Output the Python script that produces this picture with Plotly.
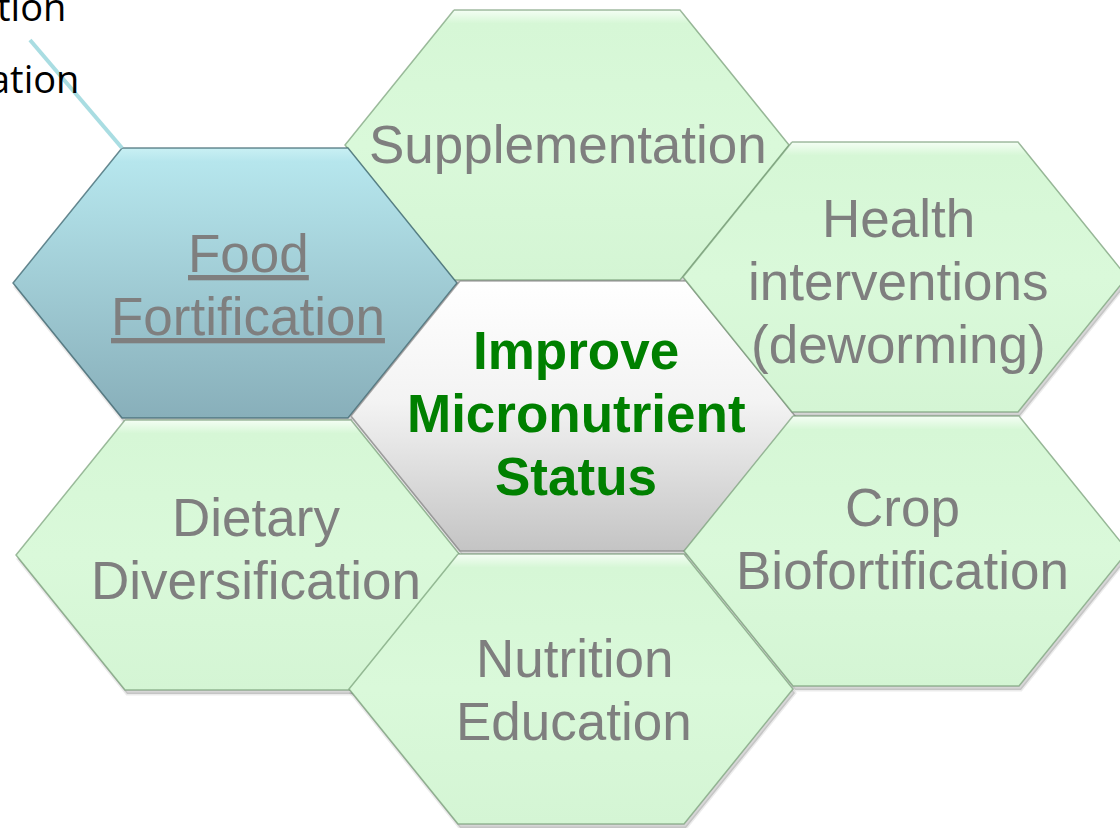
import plotly.graph_objects as go

# ---- content ----
hex_names = ["Supplementation", "Food Fortification", "Improve Micronutrient Status",
             "Health interventions (deworming)", "Dietary Diversification",
             "Crop Biofortification", "Nutrition Education"]
label_lines = [["Supplementation"],
               ["Food", "Fortification"],
               ["Improve", "Micronutrient", "Status"],
               ["Health", "interventions", "(deworming)"],
               ["Dietary", "Diversification"],
               ["Crop", "Biofortification"],
               ["Nutrition", "Education"]]
hex_kind = ["green", "blue", "center", "green", "green", "green", "green"]
partial_text = ["tion", "ation"]

# ---- layout (pixel-like coordinates, y downwards) ----
hex_cx = [567, 235, 573, 905, 238, 906, 571]
hex_cy = [145, 283, 416, 277, 555, 551, 689]
text_cx = [568, 248, 576, 898, 256, 902, 574]
text_cy = [144, 284.5, 413, 281, 548.5, 538.5, 689.5]
HW, HH, HE = 222, 135, 113
LINE_GAP = 63

W, H = 1120, 828

styles = {
    "green": dict(scale=[[0, "#f4fef4"], [0.05, "#d6f7d6"], [0.5, "#daf9da"], [1, "#d4f5d4"]],
                  line="rgba(110,150,110,0.65)"),
    "blue": dict(scale=[[0, "#c9f0f4"], [0.05, "#b6e6ed"], [1, "#88afba"]],
                 line="rgba(60,100,110,0.75)"),
    "center": dict(scale=[[0, "#ffffff"], [0.45, "#f3f3f3"], [1, "#c4c4c4"]],
                   line="rgba(120,120,120,0.6)"),
}


def hex_xy(cx, cy, dx=0, dy=0):
    xs = [cx - HE, cx + HE, cx + HW, cx + HE, cx - HE, cx - HW, cx - HE]
    ys = [cy - HH, cy - HH, cy, cy + HH, cy + HH, cy, cy - HH]
    return [x + dx for x in xs], [y + dy for y in ys]


fig = go.Figure()

# shadows
for cx, cy in zip(hex_cx, hex_cy):
    xs, ys = hex_xy(cx, cy, 2, 4)
    fig.add_trace(go.Scatter(x=xs, y=ys, mode="lines", fill="toself",
                             fillcolor="rgba(0,0,0,0.16)",
                             line=dict(color="rgba(0,0,0,0.08)", width=3),
                             hoverinfo="skip", showlegend=False))

# hexagons
for name, cx, cy, kind in zip(hex_names, hex_cx, hex_cy, hex_kind):
    xs, ys = hex_xy(cx, cy)
    st = styles[kind]
    fig.add_trace(go.Scatter(x=xs, y=ys, mode="lines", fill="toself", name=name,
                             fillgradient=dict(type="vertical", colorscale=st["scale"],
                                               start=cy - HH, stop=cy + HH),
                             line=dict(color=st["line"], width=1.5),
                             hoverinfo="name", showlegend=False))

# connector line at top left
fig.add_trace(go.Scatter(x=[30, hex_cx[1] - HE], y=[40, hex_cy[1] - HH], mode="lines",
                         line=dict(color="#a9dde2", width=4),
                         hoverinfo="skip", showlegend=False))

# labels
for lines, tx, ty, kind in zip(label_lines, text_cx, text_cy, hex_kind):
    n = len(lines)
    for i, ln in enumerate(lines):
        y = ty + (i - (n - 1) / 2) * LINE_GAP
        if kind == "center":
            font = dict(family="Liberation Sans, Arial", size=53, color="#008000", weight="bold")
        elif kind == "blue":
            font = dict(family="Liberation Sans, Arial", size=53, color="#7f7f7f", lineposition="under")
        else:
            font = dict(family="Liberation Sans, Arial", size=53, color="#7f7f7f")
        fig.add_annotation(x=tx, y=y, xref="x", yref="y", text=ln, showarrow=False,
                           xanchor="center", yanchor="middle", font=font)

# partial text clipped at the left edge
for txt, xr, yb in zip(partial_text, [68, 81], [6, 78]):
    fig.add_annotation(x=xr, y=yb, xref="x", yref="y", text=txt, showarrow=False,
                       xanchor="right", yanchor="middle",
                       font=dict(family="Open Sans", size=38, color="#000000"))

fig.update_layout(
    width=W, height=H, margin=dict(l=0, r=0, t=0, b=0),
    paper_bgcolor="white", plot_bgcolor="white",
    xaxis=dict(range=[0, W], visible=False, fixedrange=True),
    yaxis=dict(range=[H, 0], visible=False, fixedrange=True),
    showlegend=False,
)

fig.write_html("out.html", config={"displayModeBar": False},
               post_script="document.body.style.margin='0';document.body.style.overflow='hidden';")
